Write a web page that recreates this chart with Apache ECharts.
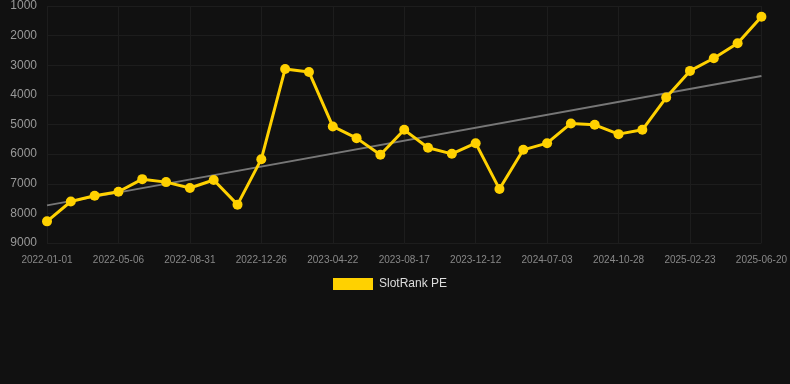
<!DOCTYPE html>
<html>
<head>
<meta charset="utf-8">
<script src="https://cdn.jsdelivr.net/npm/echarts@6/dist/echarts.min.js"></script>
<style>
  html, body { margin: 0; padding: 0; background: #111111; }
  #chart { width: 790px; height: 384px; }
</style>
</head>
<body>
<div id="chart"></div>
<script>
// dates of each point (x axis is a category axis, every third label shown)
const dates = [
  '2022-01-01', '2022-02-11', '2022-03-25', '2022-05-06', '2022-06-14', '2022-07-23',
  '2022-08-31', '2022-10-09', '2022-11-17', '2022-12-26', '2023-02-03', '2023-03-14',
  '2023-04-22', '2023-05-31', '2023-07-09', '2023-08-17', '2023-09-25', '2023-11-03',
  '2023-12-12', '2024-02-19', '2024-05-10', '2024-07-03', '2024-08-11', '2024-09-19',
  '2024-10-28', '2024-12-06', '2025-01-14', '2025-02-23', '2025-04-03', '2025-05-12',
  '2025-06-20'
]
// rank values (lower is better, axis is inverted)
const rankPE = [
  8270, 7600, 7405, 7270, 6845, 6945, 7145, 6875, 7705, 6170, 3125,
  3225, 5065, 5460, 6020, 5180, 5785, 5990, 5630, 7180, 5855, 5630,
  4965, 5010, 5325, 5180, 4090, 3190, 2765, 2260, 1360
]
// trend line, only first and last point
const trend = [7730].concat(new Array(29).fill(null), [3360])

const yTicks = { min: 1000, max: 9000, interval: 1000 }

var chartDom = document.getElementById('chart')
const chart = echarts.init(chartDom)
const option = {
  backgroundColor: '#111111',
  animation: false,
  grid: {
    left: 47,
    right: 28,
    top: 6,
    bottom: 141
  },
  legend: {
    top: 273,
    left: 328,
    itemWidth: 40,
    itemHeight: 12,
    itemGap: 10,
    icon: 'rect',
    data: ['SlotRank PE'],
    textStyle: {
      color: '#dddddd',
      fontSize: 12,
      padding: [0, 0, 0, 1],
      fontFamily: 'Arial, Liberation Sans, sans-serif'
    }
  },
  xAxis: {
    type: 'category',
    data: dates,
    boundaryGap: false,
    axisLine: { show: false },
    axisTick: { show: false },
    axisLabel: {
      interval: 2,
      color: '#888888',
      fontSize: 10,
      margin: 12,
      fontFamily: 'Arial, Liberation Sans, sans-serif'
    },
    splitLine: {
      show: true,
      interval: 2,
      lineStyle: { color: '#1d1d1d', width: 1 }
    }
  },
  yAxis: {
    type: 'value',
    inverse: true,
    min: yTicks.min,
    max: yTicks.max,
    interval: yTicks.interval,
    axisLine: { show: false },
    axisTick: { show: false },
    axisLabel: {
      color: '#999999',
      fontSize: 12,
      margin: 10,
      formatter: function (v) { return String(v) },
      fontFamily: 'Arial, Liberation Sans, sans-serif'
    },
    splitLine: {
      lineStyle: { color: '#1d1d1d', width: 1 }
    }
  },
  series: [
    {
      name: 'SlotRank PE',
      type: 'line',
      data: rankPE,
      color: '#FFD100',
      symbol: 'circle',
      symbolSize: 10,
      lineStyle: { width: 3, color: '#FFD100' },
      itemStyle: { color: '#FFD100' },
      z: 3
    },
    {
      name: 'trend',
      type: 'line',
      data: trend,
      connectNulls: true,
      symbol: 'none',
      lineStyle: { width: 2, color: '#777777' },
      z: 2
    }
  ]
}
chart && chart.setOption(option)
</script>
</body>
</html>
